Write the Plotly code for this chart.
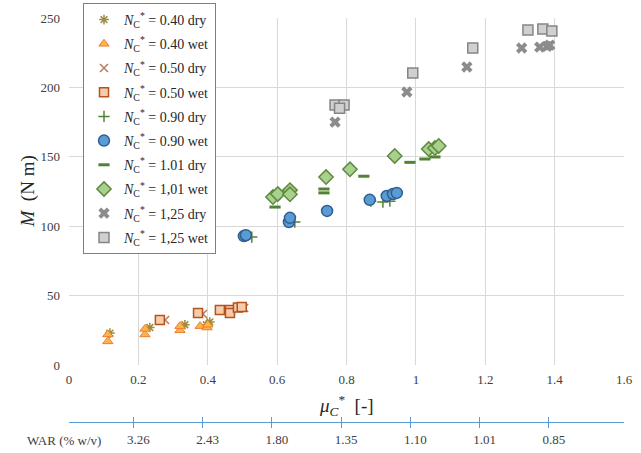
import plotly.graph_objects as go

# ---------------- data ----------------
mu_040_dry = [0.118, 0.233, 0.334, 0.406, 0.396]
M_040_dry = [23, 27, 29, 31, 29]
mu_040_wet = [0.112, 0.112, 0.219, 0.219, 0.320, 0.320, 0.378, 0.398, 0.400]
M_040_wet = [22, 17, 22, 26, 25, 28, 28, 27, 29]
mu_050_dry = [0.277, 0.386, 0.505]
M_050_dry = [32.4, 36.7, 41.0]
mu_050_wet = [0.262, 0.372, 0.435, 0.464, 0.464, 0.487, 0.498]
M_050_wet = [32.4, 37.5, 39.6, 39.6, 37.5, 41.5, 41.8]
mu_090_dry = [0.527, 0.651, 0.870, 0.905, 0.925]
M_090_dry = [92.2, 103.0, 118.0, 117.4, 118.0]
mu_090_wet = [0.504, 0.510, 0.634, 0.637, 0.744, 0.867, 0.916, 0.934, 0.945]
M_090_wet = [92.9, 93.5, 103.0, 106.0, 111.0, 119.0, 121.8, 123.2, 124.0]
mu_101_dry = [0.594, 0.735, 0.735, 0.850, 0.983, 1.026, 1.055]
M_101_dry = [113.8, 126.8, 124.0, 136.0, 146.0, 148.4, 149.9]
mu_101_wet = [0.588, 0.602, 0.637, 0.637, 0.741, 0.810, 0.939, 1.037, 1.055, 1.066]
M_101_wet = [121.0, 123.2, 126.0, 123.0, 135.4, 141.0, 150.6, 155.6, 156.3, 157.8]
mu_125_dry = [0.767, 0.974, 1.147, 1.305, 1.357, 1.378, 1.386]
M_125_dry = [175.0, 196.7, 214.7, 228.4, 229.0, 229.5, 230.5]
mu_125_wet = [0.767, 0.793, 0.780, 0.991, 1.164, 1.323, 1.366, 1.392]
M_125_wet = [187.3, 187.3, 185.0, 210.4, 228.4, 241.4, 242.0, 240.6]

series_names = ["0.40 dry", "0.40 wet", "0.50 dry", "0.50 wet", "0.90 dry",
                "0.90 wet", "1.01 dry", "1,01 wet", "1,25 dry", "1,25 wet"]

x_ticks = [0, 0.2, 0.4, 0.6, 0.8, 1.0, 1.2, 1.4, 1.6]
x_ticktext = ["0", "0.2", "0.4", "0.6", "0.8", "1", "1.2", "1.4", "1.6"]
war_tickvals = [0.2, 0.4, 0.6, 0.8, 1.0, 1.2, 1.4]
war_ticktext = ["3.26", "2.43", "1.80", "1.35", "1.10", "1.01", "0.85"]

# ---------------- styles ----------------
styles = [
    dict(symbol="asterisk-open", size=8, color="#9C8C3E", line=dict(color="#9C8C3E", width=1.5)),
    dict(symbol="triangle-up", size=9, color="#FBB54A", line=dict(color="#ED7D31", width=1)),
    dict(symbol="x-thin-open", size=8, color="#B97B5C", line=dict(color="#B97B5C", width=1.5)),
    dict(symbol="square", size=9, color="#F8CBAD", line=dict(color="#B2541C", width=1.5)),
    dict(symbol="cross-thin-open", size=8, color="#548235", line=dict(color="#548235", width=1.5)),
    dict(symbol="circle", size=11, color="#5B9BD5", line=dict(color="#2F5F8F", width=1.5)),
    dict(symbol="line-ew-open", size=8, color="#548235", line=dict(color="#548235", width=3)),
    dict(symbol="diamond", size=11, color="#A9D18E", line=dict(color="#5E8A3E", width=1.5)),
    dict(symbol="x", size=10, color="#8C8C8C", line=dict(color="#8C8C8C", width=0)),
    dict(symbol="square", size=10, color="#D0D0D0", line=dict(color="#858585", width=1.5)),
]

data = [
    (mu_040_dry, M_040_dry), (mu_040_wet, M_040_wet), (mu_050_dry, M_050_dry),
    (mu_050_wet, M_050_wet), (mu_090_dry, M_090_dry), (mu_090_wet, M_090_wet),
    (mu_101_dry, M_101_dry), (mu_101_wet, M_101_wet), (mu_125_dry, M_125_dry),
    (mu_125_wet, M_125_wet),
]

SERIF = "Liberation Serif, Times New Roman, DejaVu Serif, serif"
TICKFONT = dict(family=SERIF, size=13, color="#404040")

fig = go.Figure()
for i, ((xs, ys), name, st) in enumerate(zip(data, series_names, styles)):
    fig.add_trace(go.Scatter(
        x=xs, y=ys, mode="markers",
        name="<i>N</i><sub>C</sub><sup>*</sup> = " + name,
        legendgroup="g%d" % i,
        marker=st,
    ))

# dummy traces so the secondary (WAR) axes render
fig.add_trace(go.Scatter(x=[None], y=[None], xaxis="x2", yaxis="y",
                         showlegend=False, hoverinfo="skip"))
fig.add_trace(go.Scatter(x=[None], y=[None], xaxis="x3", yaxis="y",
                         showlegend=False, hoverinfo="skip"))

W, H = 641, 453
ml, mr, mt, mb = 69, 5, 3, 8
pw = W - ml - mr
ph = H - mt - mb
plot_right = 624
plot_top = 18
plot_bottom = 365
war_line_y = 422
px_per_unit = (plot_right - ml) / 1.6

def paper_x(px):
    return (px - ml) / pw

def paper_y(py):
    return (H - mb - py) / ph

war_left, war_right = 74, 630

grid = "#D9D9D9"
fig.update_layout(
    width=W, height=H,
    margin=dict(l=ml, r=mr, t=mt, b=mb, autoexpand=False),
    paper_bgcolor="white", plot_bgcolor="white",
    font=dict(family=SERIF, size=13, color="#404040"),
    showlegend=True,
    legend=dict(
        x=paper_x(83), y=paper_y(3), xanchor="left", yanchor="top",
        bgcolor="white", bordercolor="#7F7F7F", borderwidth=1,
        font=dict(family=SERIF, size=14, color="#262626"),
        tracegroupgap=3, itemwidth=30, maxheight=400,
    ),
    xaxis=dict(
        domain=[0, paper_x(plot_right)], range=[0, 1.6], tickvals=x_ticks,
        ticktext=x_ticktext, automargin=False, ticklabelstandoff=5,
        showgrid=True, gridcolor=grid, gridwidth=1, zeroline=False,
        showline=False, ticks="", tickfont=TICKFONT,
        anchor="y",
    ),
    yaxis=dict(
        domain=[paper_y(plot_bottom), paper_y(plot_top)], range=[0, 250], dtick=50,
        automargin=False, ticklabelstandoff=8,
        showgrid=True, gridcolor=grid, gridwidth=1, zeroline=False,
        showline=False, ticks="", tickfont=TICKFONT,
    ),
    xaxis2=dict(
        domain=[paper_x(war_left), paper_x(war_right)],
        range=[(war_left - ml) / px_per_unit, (war_right - ml) / px_per_unit],
        anchor="free", position=paper_y(war_line_y), overlaying="x",
        tickvals=war_tickvals, ticktext=war_ticktext, automargin=False,
        showline=True, linecolor="#5B9BD5", linewidth=1,
        ticks="outside", ticklen=5, tickcolor="#5B9BD5", tickwidth=1,
        showgrid=False, zeroline=False, ticklabelshift=5,
        tickfont=TICKFONT,
    ),
    xaxis3=dict(
        domain=[paper_x(war_left), paper_x(war_right)],
        range=[(war_left - ml) / px_per_unit, (war_right - ml) / px_per_unit],
        anchor="free", position=paper_y(war_line_y), overlaying="x",
        tickvals=war_tickvals, showticklabels=False, automargin=False,
        showline=False, ticks="inside", ticklen=5, tickcolor="#5B9BD5",
        tickwidth=1, showgrid=False, zeroline=False,
    ),
    annotations=[
        dict(text="WAR (% w/v)", xref="paper", yref="paper",
             x=paper_x(25), y=paper_y(war_line_y + 18), xanchor="left",
             yanchor="middle", showarrow=False, font=TICKFONT),
        dict(text="<i>μ<sub>C</sub></i><sup>*</sup>  [-]", xref="paper", yref="paper",
             x=paper_x((ml + plot_right) / 2), y=paper_y(405), xanchor="center",
             yanchor="middle", showarrow=False,
             font=dict(family=SERIF, size=19, color="#262626")),
        dict(text="<i>M</i>  (N m)", xref="paper", yref="paper", textangle=-90,
             x=paper_x(27), y=paper_y((plot_top + plot_bottom) / 2), xanchor="center",
             yanchor="middle", showarrow=False,
             font=dict(family=SERIF, size=19, color="#262626")),
    ],
)

fig.write_html(
    "out.html",
    config={"displayModeBar": False},
    post_script="document.body.style.margin='0';document.body.style.padding='0';"
                "document.body.style.overflow='hidden';",
)
